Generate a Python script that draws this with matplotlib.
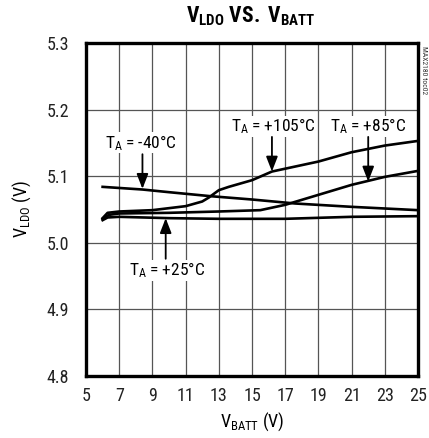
import numpy as np
import matplotlib
matplotlib.use('Agg')
import matplotlib.pyplot as plt
from matplotlib import font_manager

# fuente angosta si existe, si no Liberation Sans
nombres = set(f.name for f in font_manager.fontManager.ttflist)
fuente = 'DejaVu Sans'
for f in ['Liberation Sans Narrow', 'Roboto Condensed', 'Open Sans Condensed', 'Liberation Sans']:
    if f in nombres:
        fuente = f
        break
plt.rcParams['font.family'] = [fuente, 'DejaVu Sans']
plt.rcParams['mathtext.fontset'] = 'custom'
plt.rcParams['mathtext.rm'] = fuente
plt.rcParams['mathtext.it'] = fuente
plt.rcParams['mathtext.bf'] = fuente + ':bold'

#%% datos
vbatt_m40 = [6.0, 8.4, 10, 12.5, 15, 17.6, 21, 25]
vldo_m40 = [5.084, 5.080, 5.076, 5.070, 5.065, 5.059, 5.054, 5.049]

vbatt_25 = [6.0, 6.3, 7, 10, 13, 17, 21, 25]
vldo_25 = [5.034, 5.038, 5.039, 5.037, 5.036, 5.036, 5.039, 5.040]

vbatt_85 = [6.0, 6.4, 7, 10, 13, 15.5, 17, 19, 21, 22, 23, 25]
vldo_85 = [5.036, 5.042, 5.044, 5.045, 5.047, 5.049, 5.057, 5.072, 5.087, 5.093, 5.099, 5.108]

vbatt_105 = [6.0, 6.3, 7, 9, 11, 12.0, 12.4, 13.0, 13.6, 15, 16.2, 19, 21, 23, 25]
vldo_105 = [5.037, 5.045, 5.047, 5.049, 5.055, 5.062, 5.068, 5.079, 5.084, 5.094, 5.107, 5.122, 5.136, 5.146, 5.153]

xticks = [5, 7, 9, 11, 13, 15, 17, 19, 21, 23, 25]
yticks = [4.8, 4.9, 5.0, 5.1, 5.2, 5.3]

# etiquetas: texto, posicion del texto, inicio y punta de la flecha
etiquetas = [
    ('$\\mathrm{T_A}$ = -40°C', (8.3, 5.150), (8.4, 5.133), (8.4, 5.081)),
    ('$\\mathrm{T_A}$ = +25°C', (9.9, 4.959), (9.8, 4.976), (9.8, 5.037)),
    ('$\\mathrm{T_A}$ = +105°C', (16.3, 5.175), (16.2, 5.159), (16.2, 5.107)),
    ('$\\mathrm{T_A}$ = +85°C', (22.0, 5.175), (22.0, 5.159), (22.0, 5.092)),
]

#%%
fig = plt.figure(figsize=(4.29, 4.38), dpi=100)
ax = fig.add_axes([0.2005, 0.1416, 0.7739, 0.7602])

for xs, ys in [(vbatt_m40, vldo_m40), (vbatt_25, vldo_25), (vbatt_85, vldo_85), (vbatt_105, vldo_105)]:
    ax.plot(xs, ys, c='black', lw=1.9, zorder=3)

ax.set_xlim(5, 25)
ax.set_ylim(4.8, 5.3)
ax.set_xticks(xticks)
ax.set_yticks(yticks)
ax.set_yticklabels(['%.1f' % t for t in yticks])
ax.grid(True, color='#555555', lw=0.9, zorder=0)
ax.tick_params(length=0, labelsize=13, colors='#222222')
ax.tick_params(axis='x', pad=8)
ax.tick_params(axis='y', pad=12)
for s in ax.spines.values():
    s.set_linewidth(2.4)
    s.set_zorder(5)

for txt, pos, ini, punta in etiquetas:
    ax.text(pos[0], pos[1], txt, fontsize=12.5, ha='center', va='center', zorder=4,
            bbox=dict(facecolor='white', edgecolor='none', pad=0.5))
    ax.annotate('', xy=punta, xytext=ini, zorder=4,
                arrowprops=dict(arrowstyle='-|>,head_length=0.9,head_width=0.35',
                                color='black', lw=1.3, shrinkA=0, shrinkB=0))

ax.set_xlabel('$\\mathrm{V_{BATT}}$ (V)', fontsize=13, labelpad=4)
ax.set_ylabel('$\\mathrm{V_{LDO}}$ (V)', fontsize=13, labelpad=10)
fig.text(0.585, 0.963, '$\\mathbf{V_{LDO}}$ $\\mathbf{VS.}$ $\\mathbf{V_{BATT}}$', fontsize=15.5,
         ha='center', va='center')
fig.text(0.988, 0.84, 'MAX2180 toc02', fontsize=5.5, rotation=-90, ha='center', va='center',
         color='#333333')

fig.savefig('out.png', dpi=100)
